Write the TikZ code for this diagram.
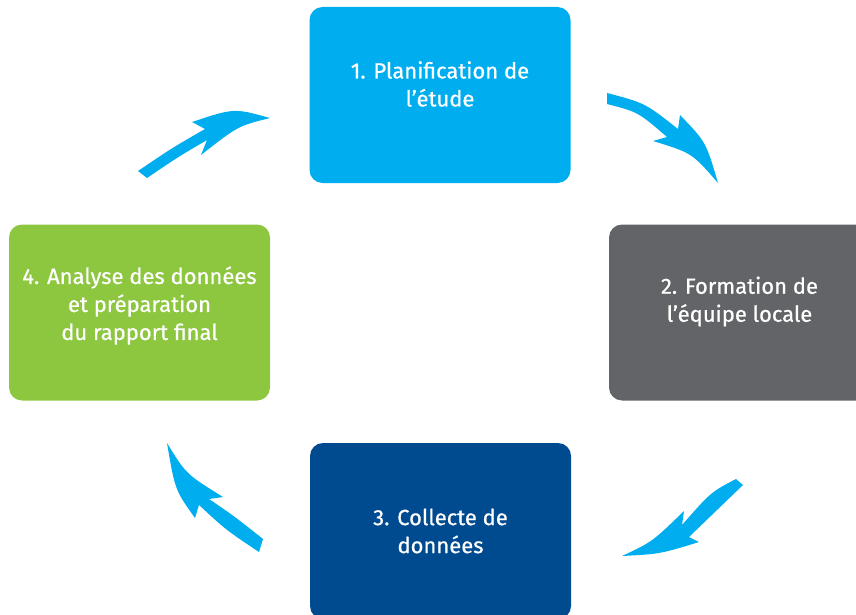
\documentclass[tikz,border=0pt]{standalone}
\usepackage{fontspec}
\setmainfont{Fira Sans}
\newfontfamily\stepfont{Fira Sans}[FakeBold=0.6]
\definecolor{planblue}{HTML}{00AEEF}
\definecolor{teamgray}{HTML}{636467}
\definecolor{collectnavy}{HTML}{004A8F}
\definecolor{reportgreen}{HTML}{8DC63F}

\begin{document}
\begin{tikzpicture}[x=1pt,y=-1pt,
      stepbox/.style = {shape=rectangle, rounded corners=13pt,
        minimum width=261pt, minimum height=176pt, inner sep=0pt},
      steptext/.style = {align=center, text=white, inner sep=0pt,
        font=\stepfont\fontsize{22}{28}\selectfont},
      cyclearrow/.style = {fill=planblue}]
  \clip (0,0) rectangle (856,615);
  \node[stepbox, fill=planblue] (plan) at (440,95) {};
  \node[stepbox, fill=teamgray] (team) at (739.5,312.5) {};
  \node[stepbox, fill=collectnavy] (collect) at (440.5,531) {};
  \node[stepbox, fill=reportgreen] (report) at (139.5,312.5) {};
  \node[steptext] (plantext) at ([yshift=11pt]plan.center) {1. Planification de\\l’étude};
  \node[steptext] (teamtext) at ([yshift=11pt]team.center) {2. Formation de\\l’équipe locale};
  \node[steptext] (collecttext) at ([yshift=0pt]collect.center) {3. Collecte de\\données};
  \node[steptext] (reporttext) at ([yshift=7pt]report.center) {4. Analyse des données\\et préparation\\du rapport final};
  \fill[cyclearrow] (607,93) .. controls (645,103) .. (678,129) -- (680,115)
    .. controls (706,142) .. (718,183) .. controls (692,153) .. (653,141)
    -- (667,137) .. controls (638,112) .. (607,104) -- cycle;
  \fill[cyclearrow] (736,479) .. controls (711,492) .. (682,525) -- (684,511)
    .. controls (652,542) .. (622,556) .. controls (660,554) .. (699,542)
    -- (689,537) .. controls (718,509) .. (743,485) -- cycle;
  \fill[cyclearrow] (167,443) .. controls (175,490) .. (195,518) -- (199,505)
    .. controls (226,530) .. (259,552) -- (263,539) .. controls (234,516) .. (209,499)
    -- (223,497) .. controls (186,474) .. (167,443) -- cycle;
  \fill[cyclearrow] (138,171) .. controls (172,148) .. (205,129) -- (192,122)
    .. controls (234,108) .. (270,118) .. controls (238,126) .. (201,155)
    -- (207,140) .. controls (178,157) .. (147,178) -- cycle;
\end{tikzpicture}
\end{document}
